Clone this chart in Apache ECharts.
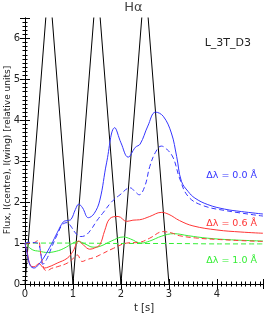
<!DOCTYPE html>
<html><head><meta charset="utf-8">
<script src="https://cdn.jsdelivr.net/npm/echarts@6/dist/echarts.min.js"></script>
<style>html,body{margin:0;padding:0;background:#fff}#c{width:267px;height:313px}</style>
</head><body><div id="c"></div>
<script>
// Triangular driving function (black)
const tDrive = [0, 0.5, 1, 1.5, 2, 2.5, 3];
const vDrive = [0, 7.5, 0, 7.5, 0, 7.5, 0];

// Δλ = 0.0 Å (blue): centre (solid) and wing (dashed)
const tBlue = [0, 0.05, 0.11, 0.19, 0.28, 0.4, 0.55, 0.67, 0.8, 0.88, 0.96, 1.05, 1.12, 1.2, 1.32, 1.44, 1.56, 1.7, 1.87, 2.0, 2.15, 2.3, 2.4, 2.56, 2.72, 2.88, 3.05, 3.16, 3.26, 3.4, 3.54, 3.81, 4.16, 4.51, 4.96];
const vBlue = [1.0, 0.72, 0.45, 0.39, 0.47, 0.66, 0.97, 1.25, 1.52, 1.55, 1.58, 1.82, 1.95, 1.86, 1.62, 1.72, 2.05, 2.96, 3.82, 3.45, 3.1, 3.34, 3.42, 3.86, 4.2, 4.1, 3.69, 3.12, 2.51, 2.26, 2.1, 1.94, 1.83, 1.77, 1.71];
const tBlueW = [0, 0.1, 0.2, 0.28, 0.33, 0.37, 0.45, 0.55, 0.67, 0.78, 0.88, 0.95, 1.05, 1.15, 1.25, 1.37, 1.5, 1.64, 1.8, 1.98, 2.19, 2.3, 2.38, 2.5, 2.6, 2.72, 2.84, 2.95, 3.09, 3.22, 3.4, 3.7, 4.2, 4.96];
const vBlueW = [1.0, 1.02, 1.01, 0.98, 0.75, 0.48, 0.6, 0.88, 1.2, 1.45, 1.5, 1.42, 1.25, 1.16, 1.18, 1.32, 1.55, 1.76, 2.0, 2.18, 2.35, 2.25, 2.18, 2.4, 2.87, 3.22, 3.37, 3.3, 3.08, 2.59, 2.14, 1.92, 1.79, 1.66];

// Δλ = 0.6 Å (red)
const tRed = [0, 0.05, 0.11, 0.19, 0.29, 0.4, 0.5, 0.67, 0.88, 1.0, 1.12, 1.22, 1.35, 1.45, 1.56, 1.66, 1.77, 1.94, 2.12, 2.25, 2.39, 2.6, 2.84, 3.0, 3.22, 3.5, 4.0, 4.5, 4.96];
const vRed = [1.0, 0.75, 0.46, 0.42, 0.5, 0.39, 0.42, 0.51, 0.63, 0.8, 1.05, 0.95, 0.85, 0.88, 0.96, 1.3, 1.6, 1.65, 1.53, 1.56, 1.57, 1.65, 1.75, 1.7, 1.55, 1.42, 1.32, 1.27, 1.24];
const tRedW = [0, 0.15, 0.27, 0.33, 0.4, 0.47, 0.55, 0.67, 0.88, 1.0, 1.09, 1.19, 1.3, 1.45, 1.56, 1.84, 2.12, 2.39, 2.6, 2.88, 3.05, 3.22, 3.6, 4.0, 4.5, 4.96];
const vRedW = [1.0, 1.0, 1.06, 0.72, 0.36, 0.33, 0.38, 0.42, 0.51, 0.62, 0.71, 0.55, 0.6, 0.65, 0.71, 0.87, 1.0, 1.02, 1.12, 1.28, 1.25, 1.18, 1.12, 1.09, 1.06, 1.04];

// Δλ = 1.0 Å (green)
const tGreen = [0, 0.15, 0.3, 0.47, 0.65, 0.81, 1.0, 1.1, 1.25, 1.42, 1.56, 1.8, 2.05, 2.2, 2.42, 2.6, 2.85, 3.1, 3.4, 3.8, 4.3, 4.96];
const vGreen = [1.0, 0.84, 0.8, 0.77, 0.8, 0.87, 1.0, 1.04, 0.98, 0.9, 0.92, 1.05, 1.15, 1.1, 1.0, 1.05, 1.17, 1.23, 1.18, 1.12, 1.08, 1.05];
const tGreenW = [0, 1, 2, 3, 4, 4.96];
const vGreenW = [1.0, 1.0, 0.99, 0.99, 0.98, 0.98];

const labels = ['Δλ = 0.0 Å', 'Δλ = 0.6 Å', 'Δλ = 1.0 Å'];

const BLUE = '#3535ff', RED = '#ff3535', GREEN = '#35ee35';
const pairs = (t, v) => t.map((x, i) => [x, v[i]]);
const ln = (t, v, color, dashed, smooth) => ({
  type: 'line', data: pairs(t, v), showSymbol: false, smooth: smooth,
  lineStyle: { color: color, width: 1, type: dashed ? [5, 3] : 'solid' },
  clip: true, silent: true, animation: false
});

const font = 'DejaVu Sans';
const tickCommon = (show) => ({
  axisLine: { show: true, lineStyle: { color: '#000', width: 1 } },
  axisTick: { show: true, inside: true, length: 5, lineStyle: { color: '#000' } },
  minorTick: { show: true, splitNumber: 10, length: 2.5, lineStyle: { color: '#000' } },
  splitLine: { show: false },
  axisLabel: { show: show, color: '#222', fontSize: 10, fontFamily: font, showMaxLabel: false, margin: 5 }
});

const chart = echarts.init(document.getElementById('c'), null, { renderer: 'canvas' });
chart.setOption({
  animation: false,
  grid: { left: 25, right: 4, top: 18, bottom: 29, containLabel: false, outerBoundsMode: 'none' },
  xAxis: [
    Object.assign({ type: 'value', min: 0, max: 4.96, interval: 1, position: 'bottom',
      name: 't [s]', nameLocation: 'middle', nameGap: 17,
      nameTextStyle: { color: '#222', fontSize: 10, fontFamily: font } }, tickCommon(true)),
    Object.assign({ type: 'value', min: 0, max: 4.96, interval: 1, position: 'top' }, tickCommon(false))
  ],
  yAxis: [
    Object.assign({ type: 'value', min: 0, max: 6.5, interval: 1, position: 'left' }, tickCommon(true)),
    Object.assign({ type: 'value', min: 0, max: 6.5, interval: 1, position: 'right' }, tickCommon(false))
  ],
  series: [
    ln(tDrive, vDrive, '#000', false, false),
    ln(tGreenW, vGreenW, GREEN, true, 0.3),
    ln(tGreen, vGreen, GREEN, false, 0.4),
    ln(tRedW, vRedW, RED, true, 0.4),
    ln(tRed, vRed, RED, false, 0.4),
    ln(tBlueW, vBlueW, BLUE, true, 0.4),
    ln(tBlue, vBlue, BLUE, false, 0.4)
  ],
  graphic: [
    { type: 'text', left: 'center', top: 1, style: { text: 'Hα', fill: '#444', font: '13px "DejaVu Sans"' } },
    { type: 'text', x: 8, y: 150, rotation: Math.PI / 2,
      style: { text: 'Flux, I(centre), I(wing) [relative units]', fill: '#222', font: '9px "DejaVu Sans"', align: 'center', verticalAlign: 'middle' } },
    { type: 'text', right: 16, top: 38, style: { text: 'L_3T_D3', fill: '#222', font: '11px "DejaVu Sans"' } },
    { type: 'text', right: 10, top: 171, style: { text: labels[0], fill: BLUE, font: '9.5px "DejaVu Sans"' } },
    { type: 'text', right: 10, top: 219, style: { text: labels[1], fill: RED, font: '9.5px "DejaVu Sans"' } },
    { type: 'text', right: 10, top: 256, style: { text: labels[2], fill: GREEN, font: '9.5px "DejaVu Sans"' } }
  ]
});
</script></body></html>
